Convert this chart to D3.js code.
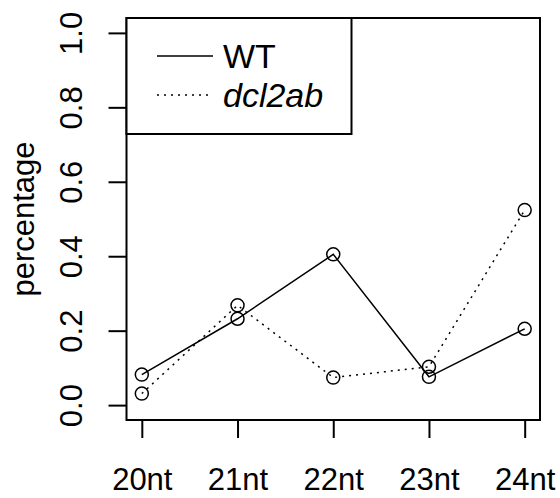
<!DOCTYPE html>
<html>
<head>
<meta charset="utf-8">
<script src="https://cdn.jsdelivr.net/npm/d3@7"></script>
<style>
  body { margin: 0; background: #fff; }
  svg { display: block; font-family: "Liberation Sans", Arial, sans-serif; }
</style>
</head>
<body>
<div id="chart"></div>
<script>
// data
const categories = ["20nt", "21nt", "22nt", "23nt", "24nt"];
const wtValues = [0.082, 0.232, 0.405, 0.076, 0.205];
const dclValues = [0.031, 0.268, 0.074, 0.103, 0.524];
const yTicks = [0, 0.2, 0.4, 0.6, 0.8, 1.0];
const seriesNames = ["WT", "dcl2ab"];

const W = 560, H = 498;
const box = {left: 126.5, right: 540, top: 18, bottom: 420};
const fontSize = 31;

const svg = d3.select("#chart").append("svg")
    .attr("width", W).attr("height", H);

// R style: 4% padding on each side of the data range
const x = d3.scaleLinear().domain([1 - 0.16, 5 + 0.16]).range([box.left, box.right]);
const y = d3.scaleLinear().domain([-0.04, 1.04]).range([box.bottom, box.top]);

// y axis, labels rotated like las=0
const yAxis = svg.append("g")
    .attr("transform", `translate(${box.left},0)`)
    .call(d3.axisLeft(y).tickValues(yTicks).tickSize(18).tickSizeOuter(0)
          .tickFormat(d3.format(".1f")));
yAxis.select(".domain").remove();
yAxis.selectAll(".tick line").attr("stroke", "#000").attr("stroke-width", 2);
yAxis.selectAll(".tick text")
    .attr("x", null).attr("dy", null)
    .attr("transform", "translate(-45,0) rotate(-90)")
    .attr("text-anchor", "middle")
    .style("font-size", fontSize + "px").attr("fill", "#000");

// x axis
const xAxis = svg.append("g")
    .attr("transform", `translate(0,${box.bottom})`)
    .call(d3.axisBottom(x).tickValues([1, 2, 3, 4, 5]).tickSize(18).tickSizeOuter(0)
          .tickFormat((d, i) => categories[i]));
xAxis.select(".domain").remove();
xAxis.selectAll(".tick line").attr("stroke", "#000").attr("stroke-width", 2);
xAxis.selectAll(".tick text")
    .attr("y", 70).attr("dy", null)
    .style("font-size", fontSize + "px").attr("fill", "#000");

// plot frame
svg.append("rect")
    .attr("x", box.left).attr("y", box.top)
    .attr("width", box.right - box.left).attr("height", box.bottom - box.top)
    .attr("fill", "none").attr("stroke", "#000").attr("stroke-width", 2);

// y title
svg.append("text")
    .attr("transform", `translate(34,${(box.top + box.bottom) / 2}) rotate(-90)`)
    .attr("text-anchor", "middle")
    .style("font-size", fontSize + "px")
    .text("percentage");

const line = d3.line().x((d, i) => x(i + 1)).y(d => y(d));

function drawSeries(values, dash) {
    const lines = svg.append("path")
        .datum(values)
        .attr("d", line)
        .attr("fill", "none").attr("stroke", "#000").attr("stroke-width", 1.5);
    if (dash) lines.attr("stroke-dasharray", dash);
    svg.selectAll(null)
        .data(values)
        .enter().append("circle")
        .attr("cx", (d, i) => x(i + 1))
        .attr("cy", d => y(d))
        .attr("r", 6.5)
        .attr("fill", "none").attr("stroke", "#000").attr("stroke-width", 1.5);
}
drawSeries(wtValues, null);
drawSeries(dclValues, "2,5");

// legend (topleft)
const leg = svg.append("g");
leg.append("rect")
    .attr("x", box.left).attr("y", box.top)
    .attr("width", 351.5 - box.left).attr("height", 134 - box.top)
    .attr("fill", "#fff").attr("stroke", "#000").attr("stroke-width", 2);
const rows = [
    {name: seriesNames[0], dash: null, italic: false, y: 56},
    {name: seriesNames[1], dash: "2,5", italic: true, y: 95}
];
rows.forEach(r => {
    const l = leg.append("line")
        .attr("x1", 157).attr("x2", 213)
        .attr("y1", r.y).attr("y2", r.y)
        .attr("stroke", "#000").attr("stroke-width", 1.5);
    if (r.dash) l.attr("stroke-dasharray", r.dash);
    leg.append("text")
        .attr("x", 223).attr("y", r.y).attr("dy", "0.36em")
        .style("font-size", "34px")
        .style("font-style", r.italic ? "italic" : "normal")
        .text(r.name);
});
</script>
</body>
</html>
